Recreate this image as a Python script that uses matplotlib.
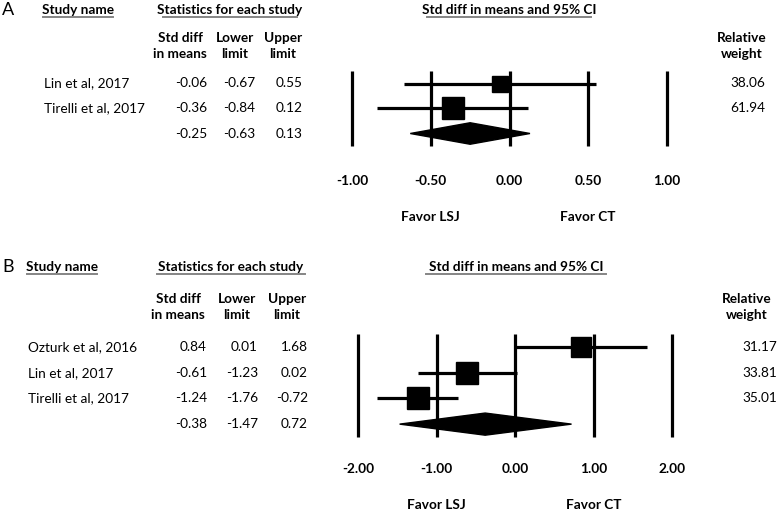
import matplotlib
matplotlib.use("Agg")
import matplotlib.pyplot as plt
import matplotlib.transforms as mtransforms
from matplotlib.patches import Polygon
import numpy as np

# panel A data
a_studies = ["Lin et al, 2017", "Tirelli et al, 2017"]
a_smd = [-0.06, -0.36]
a_lower = [-0.67, -0.84]
a_upper = [0.55, 0.12]
a_weight = [38.06, 61.94]
a_summary = [-0.25, -0.63, 0.13]
a_ticks = [-1.0, -0.5, 0.0, 0.5, 1.0]

# panel B data
b_studies = ["Ozturk et al, 2016", "Lin et al, 2017", "Tirelli et al, 2017"]
b_smd = [0.84, -0.61, -1.24]
b_lower = [0.01, -1.23, -1.76]
b_upper = [1.68, 0.02, -0.72]
b_weight = [31.17, 33.81, 35.01]
b_summary = [-0.38, -1.47, 0.72]
b_ticks = [-2.0, -1.0, 0.0, 1.0, 2.0]

W, H = 778, 511
plt.rcParams['font.family'] = ['Lato', 'DejaVu Sans']
FS = 9.8

fig = plt.figure(figsize=(W / 100, H / 100), dpi=100)
bg = fig.add_axes([0, 0, 1, 1])
bg.set_xlim(0, W)
bg.set_ylim(H, 0)
bg.axis('off')


def underlined(x0, x1, y, text):
    bg.text((x0 + x1) / 2, y, text, ha='center', va='center', fontsize=FS, fontweight='bold')
    bg.plot([x0, x1], [y + 7, y + 7], color='#858585', lw=1.4)


def draw_panel(letter, top, studies, smd, lower, upper, weight, summary, ticks, p):
    # p holds the pixel layout of the panel
    bg.text(2, top, letter, ha='left', va='center', fontsize=13)
    underlined(p['name_x'] - 1, p['name_x'] + 69, top, "Study name")
    underlined(p['stat0'], p['stat1'], top, "Statistics for each study")
    underlined(p['ci0'], p['ci1'], top, "Std diff in means and 95% CI")

    hy = p['head_y']
    for cx, txt in zip(p['col_c'], ["Std diff\nin means", "Lower\nlimit", "Upper\nlimit"]):
        bg.text(cx, hy, txt, ha='center', va='center', fontsize=FS, fontweight='bold',
                linespacing=1.35)
    bg.text(p['rw_c'], hy, "Relative\nweight", ha='center', va='center', fontsize=FS,
            fontweight='bold', linespacing=1.35)

    n = len(studies)
    rows = p['row0'] + p['step'] * np.arange(n + 1)
    for i in range(n):
        bg.text(p['name_x'], rows[i], studies[i], ha='left', va='center', fontsize=FS)
        for rx, v in zip(p['col_r'], [smd[i], lower[i], upper[i]]):
            bg.text(rx, rows[i], f"{v:.2f}", ha='right', va='center', fontsize=FS)
        bg.text(p['rw_r'], rows[i], f"{weight[i]:.2f}", ha='right', va='center', fontsize=FS)
    for rx, v in zip(p['col_r'], summary):
        bg.text(rx, rows[n], f"{v:.2f}", ha='right', va='center', fontsize=FS)

    # forest axes
    x0, x1 = p['ax_x']
    y0, y1 = p['ax_y']
    ax = fig.add_axes([x0 / W, 1 - y1 / H, (x1 - x0) / W, (y1 - y0) / H])
    ax.set_xlim(ticks[0], ticks[-1])
    ax.set_ylim(n + 0.5, -0.5)
    for s in ax.spines.values():
        s.set_visible(False)
    ax.patch.set_alpha(0)
    ax.set_yticks([])
    ax.set_xticks(ticks)
    ax.set_xticklabels([f"{t:.2f}" for t in ticks], fontsize=FS, fontweight='bold')
    ax.tick_params(axis='x', length=0, pad=p['pad'])

    ax.vlines(ticks, n + 0.5, -0.5, color='black', lw=2.3, clip_on=False)
    ax.hlines(np.arange(n), lower, upper, color='black', lw=2.3, clip_on=False)
    wmax = max(weight)
    for i in range(n):
        ax.plot(smd[i], i, marker='s', color='black', linestyle='none',
                markersize=15.5 * np.sqrt(weight[i] / wmax), clip_on=False)
    est, lo, hi = summary
    h = 0.43
    ax.add_patch(Polygon([[lo, n], [est, n - h], [hi, n], [est, n + h]], closed=True,
                         facecolor='black', edgecolor='black', clip_on=False))

    tr = mtransforms.blended_transform_factory(ax.transData, bg.transData)
    ax.text(ticks[1], p['favor_y'], "Favor LSJ", transform=tr, ha='center', va='center',
            fontsize=FS, fontweight='bold')
    ax.text(ticks[3], p['favor_y'], "Favor CT", transform=tr, ha='center', va='center',
            fontsize=FS, fontweight='bold')


layout_a = dict(name_x=44, stat0=163, stat1=297, ci0=427, ci1=591, head_y=46,
                col_c=[180, 235, 283], col_r=[207, 255, 303], rw_c=742, rw_r=765,
                row0=83, step=25.5, ax_x=(352, 667), ax_y=(71, 146), pad=21, favor_y=217)
layout_b = dict(name_x=28, stat0=157, stat1=305, ci0=426, ci1=606, head_y=307,
                col_c=[178, 237, 287], col_r=[207, 258, 308], rw_c=747, rw_r=777,
                row0=347, step=25.7, ax_x=(358, 672), ax_y=(334, 437), pad=19, favor_y=505)

draw_panel("A", 10, a_studies, a_smd, a_lower, a_upper, a_weight, a_summary, a_ticks, layout_a)
draw_panel("B", 267, b_studies, b_smd, b_lower, b_upper, b_weight, b_summary, b_ticks, layout_b)

fig.savefig("out.png", dpi=100, facecolor='white')
